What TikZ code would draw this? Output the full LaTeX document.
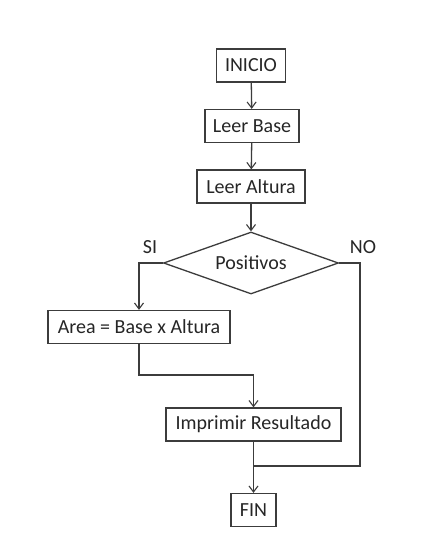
\documentclass[tikz,border=0pt]{standalone}
\usepackage{fontspec}
\setmainfont{Carlito}
\usetikzlibrary{shapes.geometric,arrows.meta}
\definecolor{ink}{HTML}{3C3C3C}
\definecolor{txt}{HTML}{262626}
\begin{document}
\begin{tikzpicture}[x=1pt,y=-1pt,
  font=\fontsize{20}{23}\selectfont, text=txt,
  stepbox/.style={draw=ink, line width=1.3pt, rectangle, inner xsep=1pt, inner ysep=0pt, minimum height=33pt},
  decision/.style={draw=ink, line width=1.3pt, diamond, aspect=2.8, inner sep=0pt, minimum width=175pt, minimum height=62pt},
  link/.style={draw=ink, line width=1.3pt},
  flow/.style={link, -{Straight Barb[length=6pt,width=9pt,line width=1.1pt]}}]
\useasboundingbox (0,0) rectangle (438,542);
\fill[white] (0,0) rectangle (438,542);

% process steps
\node[stepbox, minimum width=69pt] (inicio) at (251,65.5) {INICIO};
\node[stepbox, minimum width=94pt] (base) at (252,126) {Leer Base};
\node[stepbox, minimum width=108pt] (altura) at (251,186.5) {Leer Altura};
\node[decision] (pos) at (251,263) {Positivos};
\node[stepbox, minimum width=182pt] (area) at (139,327) {Area = Base x Altura};
\node[stepbox, minimum width=175pt] (imp) at (253.5,424.5) {Imprimir Resultado};
\node[stepbox, minimum width=45pt] (fin) at (253.5,510) {FIN};

% branch labels
\node (si) at (150,247) {SI};
\node (no) at (363,247) {NO};

% routing points
\coordinate (noturn) at (360,263);
\coordinate (join) at (253.5,466);
\coordinate (merge) at (253.5,375);

% connectors
\draw[flow] (inicio) -- (base);
\draw[flow] (base) -- (altura);
\draw[flow] (altura) -- (pos);
\draw[flow] (pos.west) -| (area.north);
\draw[flow] (area.south) |- (merge) -- (imp.north);
\draw[link] (pos.east) -- (noturn) |- (join);
\draw[flow] (imp) -- (fin);
\end{tikzpicture}
\end{document}
